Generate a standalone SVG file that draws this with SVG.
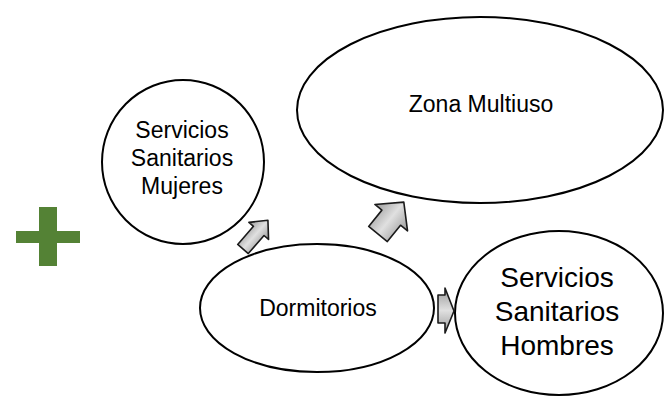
<svg xmlns="http://www.w3.org/2000/svg" width="668" height="399" viewBox="0 0 668 399">
  <defs>
    <linearGradient id="ag" x1="0" y1="0" x2="0" y2="1">
      <stop offset="0" stop-color="#9a9a9a"/>
      <stop offset="0.5" stop-color="#e0e0e0"/>
      <stop offset="1" stop-color="#9a9a9a"/>
    </linearGradient>
    <style>
      .node ellipse { fill: #ffffff; stroke: #000000; stroke-width: 2; }
      .lbl { font-family: "Liberation Sans", Arial, sans-serif; fill: #000000; text-anchor: middle; }
      .arr { fill: url(#ag); stroke: #1a1a1a; stroke-width: 1.6; stroke-linejoin: round; }
    </style>
  </defs>
  <rect width="668" height="399" fill="#ffffff"/>

  <g id="plus">
    <rect x="39" y="207" width="18" height="59" fill="#548235"/>
    <rect x="16" y="231" width="64" height="12" fill="#548235"/>
  </g>

  <g id="mujeres" class="node">
    <ellipse cx="183" cy="162" rx="81" ry="82"/>
    <text class="lbl" font-size="23" x="182" y="138">Servicios</text>
    <text class="lbl" font-size="23" x="182" y="166">Sanitarios</text>
    <text class="lbl" font-size="23" x="182" y="194">Mujeres</text>
  </g>

  <g id="zona" class="node">
    <ellipse cx="480" cy="110" rx="183" ry="93"/>
    <text class="lbl" font-size="23" x="481" y="112">Zona Multiuso</text>
  </g>

  <g id="dormitorios" class="node">
    <ellipse cx="317" cy="308" rx="117" ry="64"/>
    <text class="lbl" font-size="23" x="318" y="316">Dormitorios</text>
  </g>

  <g id="hombres" class="node">
    <ellipse cx="559" cy="313" rx="104" ry="82"/>
    <text class="lbl" font-size="28" x="557" y="287">Servicios</text>
    <text class="lbl" font-size="28" x="557" y="321">Sanitarios</text>
    <text class="lbl" font-size="28" x="557" y="355">Hombres</text>
  </g>

  <g id="connectors">
    <path class="arr" transform="translate(243,249) rotate(-49)" d="M0,-7 L24,-7 L24,-13 L38,0 L24,13 L24,7 L0,7 Z"/>
    <path class="arr" transform="translate(378,234) rotate(-51)" d="M0,-12 L21,-12 L21,-21 L41,0 L21,21 L21,12 L0,12 Z"/>
    <path class="arr" d="M438,295 L445,295 L445,288 L454,311 L445,333 L445,323 L438,323 Z"/>
  </g>
</svg>
